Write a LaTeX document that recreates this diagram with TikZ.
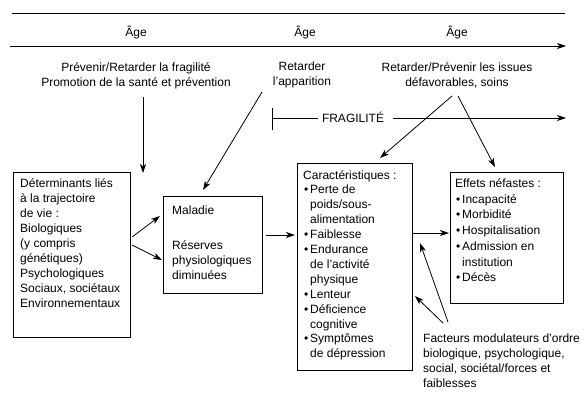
\documentclass[tikz,border=0pt]{standalone}
\usepackage{fontspec}
\setmainfont{Liberation Sans}
\usetikzlibrary{arrows.meta}
\newcommand\bulx{\makebox[7pt][l]{\hspace{1pt}\textbullet}}
\newcommand\indx{\hspace*{7pt}}
\begin{document}
\begin{tikzpicture}[x=1pt,y=-1pt,
  box/.style={draw, line width=0.8pt, inner sep=0pt, anchor=north west},
  txt/.style={font=\fontsize{12}{15}\selectfont, align=left, inner sep=0pt, anchor=north west},
  ctxt/.style={font=\fontsize{12}{15}\selectfont, align=center, inner sep=0pt},
  arr/.style={-{Stealth[length=9pt,width=6pt,inset=2.5pt]}, line width=0.8pt},
  ln/.style={line width=0.8pt}]
\useasboundingbox (0,0) rectangle (585,405);

% top age band
\coordinate (tl1) at (12,13);
\coordinate (tl2) at (565,13);
\draw[ln] (tl1) -- (tl2);
\coordinate (al1) at (10,46);
\coordinate (al2) at (566,46);
\draw[arr] (al1) -- (al2);
\node[ctxt, anchor=base] (age1) at (136,36) {Âge};
\node[ctxt, anchor=base] (age2) at (305,36) {Âge};
\node[ctxt, anchor=base] (age3) at (457,36) {Âge};

% intervention texts
\node[ctxt, anchor=north] (prev) at (136,62) {Prévenir/Retarder la fragilité\\Promotion de la santé et prévention};
\node[ctxt, anchor=north] (retap) at (302,62) {Retarder\\l’apparition};
\node[ctxt, anchor=north] (retiss) at (457,62) {Retarder/Prévenir les issues\\défavorables, soins};

% fragilite line
\coordinate (fb1) at (272,108);
\coordinate (fb2) at (272,130);
\draw[ln] (fb1) -- (fb2);
\node[ctxt, anchor=base] (frag) at (353,122.5) {FRAGILITÉ};
\coordinate (fs) at (272,118);
\coordinate (fe) at (566,118);
\draw[ln] (fs) -- ([xshift=-4pt]frag.west |- fs);
\draw[arr] ([xshift=9pt]frag.east |- fe) -- (fe);

% boxes
\node[box, minimum width=117pt, minimum height=165pt] (det) at (13,172) {};
\node[txt] (dett) at ([xshift=7pt,yshift=-6pt]det.north west)
  {Déterminants liés\\à la trajectoire\\de vie :\\Biologiques\\(y compris\\génétiques)\\Psychologiques\\Sociaux, sociétaux\\Environnementaux};

\node[box, minimum width=99pt, minimum height=97pt] (mal) at (163,196) {};
\node[txt] (malt) at ([xshift=9pt,yshift=-9.4pt]mal.north west)
  {Maladie\\[20pt]Réserves\\physiologiques\\diminuées};

\node[box, minimum width=115pt, minimum height=207pt] (car) at (297,163) {};
\node[txt, font=\fontsize{12}{14.9}\selectfont] (cart) at ([xshift=6pt,yshift=-7pt]car.north west)
  {Caractéristiques :\\
   \bulx Perte de\\
   \indx poids/sous-\\
   \indx alimentation\\
   \bulx Faiblesse\\
   \bulx Endurance\\
   \indx de l'activité\\
   \indx physique\\
   \bulx Lenteur\\
   \bulx Déficience\\
   \indx cognitive\\
   \bulx Symptômes\\
   \indx de dépression};

\node[box, minimum width=113pt, minimum height=131pt] (eff) at (450,172) {};
\node[txt, font=\fontsize{12}{15.7}\selectfont] (efft) at ([xshift=5pt,yshift=-6.5pt]eff.north west)
  {Effets néfastes :\\
   \bulx Incapacité\\
   \bulx Morbidité\\
   \bulx Hospitalisation\\
   \bulx Admission en\\
   \indx institution\\
   \bulx Décès};

\node[txt] (fact) at (423,333.5)
  {Facteurs modulateurs d’ordre\\biologique, psychologique,\\social, sociétal/forces et\\faiblesses};

% arrows
\coordinate (a1s) at (143,97);   \coordinate (a1e) at (143,173);
\draw[arr] (a1s) -- (a1e);
\coordinate (a2s) at (262,92);   \coordinate (a2e) at (203,190);
\draw[arr] (a2s) -- (a2e);
\coordinate (a3s) at (452,96);   \coordinate (a3e) at (380,158);
\draw[arr] (a3s) -- (a3e);
\coordinate (a4s) at (458,96);   \coordinate (a4e) at (495,167);
\draw[arr] (a4s) -- (a4e);
\coordinate (d1s) at (132,237);  \coordinate (d1e) at (160,216);
\draw[arr] (d1s) -- (d1e);
\coordinate (d2s) at (132,245);  \coordinate (d2e) at (162,260);
\draw[arr] (d2s) -- (d2e);
\coordinate (mcy) at (0,235);
\draw[arr] (mal.east |- mcy) ++(3,0) -- ([xshift=-2pt]car.west |- mcy);
\coordinate (cey) at (0,233);
\draw[arr] (car.east |- cey) -- ([xshift=-1pt]eff.west |- cey);
\coordinate (f1s) at (448,322);  \coordinate (f1e) at (420,243);
\draw[arr] (f1s) -- (f1e);
\coordinate (f2s) at (443,323);  \coordinate (f2e) at (415,296);
\draw[arr] (f2s) -- (f2e);
\end{tikzpicture}
\end{document}
